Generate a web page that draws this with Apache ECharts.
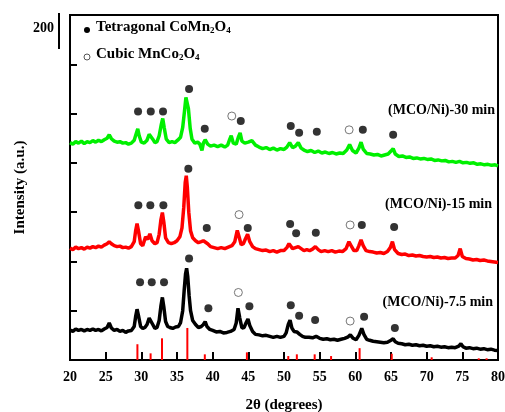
<!DOCTYPE html>
<html>
<head>
<meta charset="utf-8">
<script src="https://cdn.jsdelivr.net/npm/echarts@6/dist/echarts.min.js"></script>
<style>html,body{margin:0;padding:0;background:#fff;}#c{width:505px;height:412px;}</style>
</head>
<body>
<div id="c"></div>
<script>
// 2θ ticks
var xTicks = [20, 25, 30, 35, 40, 45, 50, 55, 60, 65, 70, 75, 80];

// (MCO/Ni)-7.5 min  [2θ, intensity]
var black75 = [[20.0,61],[20.4,58],[20.8,63],[21.2,60],[21.6,62],[22.0,59],[22.4,62],[22.8,60],[23.2,63],[23.6,60],[24.0,62],[24.4,59],[24.8,63],[25.2,66],[25.5,75],[25.8,65],[26.2,60],[26.6,62],[27.0,58],[27.4,60],[27.8,56],[28.2,59],[28.6,60],[29.0,68],[29.2,88],[29.4,103],[29.6,90],[29.9,68],[30.2,64],[30.5,66],[30.8,72],[31.1,85],[31.3,87],[31.6,72],[31.9,64],[32.2,66],[32.5,80],[32.75,110],[32.95,127],[33.15,108],[33.4,78],[33.7,68],[34.0,66],[34.4,64],[34.8,67],[35.2,68],[35.5,76],[35.8,100],[36.0,140],[36.2,175],[36.35,186],[36.5,170],[36.7,130],[36.9,100],[37.2,80],[37.6,72],[38.0,66],[38.4,68],[38.7,72],[38.95,78],[39.2,68],[39.6,62],[40.0,60],[40.5,57],[41.0,58],[41.5,55],[42.0,56],[42.5,58],[43.0,62],[43.3,75],[43.55,105],[43.8,85],[44.1,65],[44.4,66],[44.7,76],[44.95,83],[45.2,70],[45.6,58],[46.0,52],[46.5,51],[47.0,49],[47.5,50],[48.0,48],[48.5,46],[49.0,48],[49.5,46],[50.0,48],[50.3,55],[50.6,72],[50.85,81],[51.1,65],[51.4,58],[51.8,57],[52.2,52],[52.6,48],[53.0,46],[53.5,46],[54.0,45],[54.5,48],[55.0,44],[55.5,42],[56.0,43],[56.5,41],[57.0,42],[57.5,40],[58.0,42],[58.5,44],[59.0,47],[59.3,51],[59.7,44],[60.1,41],[60.5,50],[60.9,64],[61.2,52],[61.6,42],[62.0,40],[62.5,38],[63.0,37],[63.5,36],[64.0,35],[64.5,36],[65.0,40],[65.3,43],[65.6,37],[66.0,34],[66.5,33],[67.0,31],[67.5,32],[68.0,30],[68.5,31],[69.0,29],[69.5,30],[70.0,28],[70.5,29],[71.0,27],[71.5,28],[72.0,26],[72.5,27],[73.0,25],[73.5,26],[74.0,25],[74.5,28],[74.8,33],[75.1,27],[75.5,24],[76.0,25],[76.5,23],[77.0,24],[77.5,22],[78.0,23],[78.5,21],[79.0,22],[79.5,20],[80.0,19]];

// (MCO/Ni)-15 min
var red15 = [[20.0,227],[20.4,224],[20.8,229],[21.2,226],[21.6,228],[22.0,225],[22.4,229],[22.8,227],[23.2,230],[23.6,228],[24.0,231],[24.4,229],[24.8,233],[25.2,236],[25.5,240],[25.8,236],[26.2,232],[26.6,230],[27.0,231],[27.4,228],[27.8,229],[28.2,227],[28.6,230],[29.0,240],[29.2,262],[29.4,277],[29.6,262],[29.9,236],[30.2,232],[30.6,250],[30.9,245],[31.2,256],[31.5,242],[31.9,236],[32.2,238],[32.5,255],[32.75,285],[32.95,299],[33.15,280],[33.4,248],[33.8,238],[34.2,236],[34.6,238],[35.0,242],[35.4,250],[35.7,268],[35.95,310],[36.15,360],[36.3,374],[36.45,350],[36.65,300],[36.9,262],[37.2,248],[37.6,242],[38.0,238],[38.4,240],[38.7,242],[38.95,246],[39.3,236],[39.7,230],[40.2,228],[40.7,226],[41.2,228],[41.7,226],[42.2,229],[42.7,232],[43.1,240],[43.45,263],[43.7,250],[44.0,234],[44.3,236],[44.6,246],[44.9,255],[45.2,240],[45.6,230],[46.0,226],[46.5,224],[47.0,222],[47.5,223],[48.0,220],[48.5,222],[49.0,219],[49.5,222],[50.0,222],[50.4,228],[50.7,236],[50.9,232],[51.2,226],[51.6,228],[52.0,230],[52.4,226],[52.8,222],[53.2,224],[53.6,222],[54.0,225],[54.4,230],[54.8,224],[55.2,220],[55.7,222],[56.2,220],[56.7,222],[57.2,219],[57.7,221],[58.2,220],[58.7,226],[59.1,240],[59.4,232],[59.8,222],[60.2,222],[60.5,232],[60.8,244],[61.1,232],[61.5,222],[62.0,220],[62.5,219],[63.0,217],[63.5,218],[64.0,216],[64.5,220],[64.9,228],[65.2,240],[65.5,224],[66.0,216],[66.5,214],[67.0,215],[67.5,212],[68.0,213],[68.5,211],[69.0,212],[69.5,210],[70.0,209],[70.5,210],[71.0,208],[71.5,209],[72.0,207],[72.5,208],[73.0,206],[73.5,207],[74.0,207],[74.4,212],[74.7,226],[75.0,210],[75.5,206],[76.0,205],[76.5,203],[77.0,204],[77.5,202],[78.0,203],[78.5,201],[79.0,200],[79.5,199],[80.0,198]];

// (MCO/Ni)-30 min
var green30 = [[20.0,441],[20.4,438],[20.8,443],[21.2,440],[21.6,444],[22.0,439],[22.4,443],[22.8,441],[23.2,445],[23.6,442],[24.0,446],[24.4,443],[24.8,447],[25.2,450],[25.5,457],[25.8,449],[26.2,444],[26.6,442],[27.0,443],[27.4,440],[27.8,441],[28.2,438],[28.6,440],[29.0,446],[29.3,460],[29.5,469],[29.7,455],[30.0,442],[30.4,440],[30.8,446],[31.1,458],[31.3,461],[31.6,448],[31.9,441],[32.2,443],[32.5,455],[32.8,478],[33.0,490],[33.2,472],[33.5,448],[33.9,441],[34.3,443],[34.7,441],[35.1,446],[35.5,452],[35.8,472],[36.05,505],[36.25,533],[36.4,536],[36.6,510],[36.85,470],[37.1,448],[37.5,440],[37.9,442],[38.2,438],[38.5,425],[38.7,440],[38.95,447],[39.3,438],[39.7,434],[40.2,436],[40.7,433],[41.2,436],[41.7,432],[42.1,436],[42.4,448],[42.6,455],[42.9,440],[43.3,438],[43.6,452],[43.85,461],[44.1,444],[44.5,440],[45.0,442],[45.5,445],[46.0,436],[46.5,432],[47.0,429],[47.5,431],[48.0,427],[48.5,430],[49.0,426],[49.5,429],[50.0,427],[50.4,432],[50.8,441],[51.2,431],[51.6,434],[52.0,441],[52.4,430],[52.8,426],[53.3,423],[53.8,425],[54.3,421],[54.8,424],[55.3,420],[55.8,422],[56.3,419],[56.8,421],[57.3,418],[57.8,420],[58.3,419],[58.8,426],[59.2,437],[59.6,425],[60.1,420],[60.5,430],[60.8,442],[61.1,428],[61.6,419],[62.1,418],[62.6,416],[63.1,417],[63.6,414],[64.1,416],[64.6,418],[65.0,424],[65.3,429],[65.6,418],[66.1,413],[66.6,414],[67.1,411],[67.6,412],[68.1,409],[68.6,410],[69.1,408],[69.6,409],[70.1,407],[70.6,408],[71.1,405],[71.6,406],[72.1,404],[72.6,405],[73.1,402],[73.6,403],[74.1,401],[74.6,403],[75.1,400],[75.6,401],[76.1,399],[76.6,400],[77.1,397],[77.6,398],[78.1,396],[78.6,397],[79.1,395],[79.6,396],[80.0,394]];

// reference pattern lines (red sticks)
var refSticks = [[29.45,32],[31.3,13.5],[32.9,44],[36.45,65],[38.9,11.5],[44.8,15.5],[50.6,8],[51.8,11.5],[54.3,11.5],[56.6,8],[60.6,24],[65.1,12.7],[70.7,5.5],[77.3,3.4],[78.4,3.4]];

// peak markers: tetragonal CoMn2O4 (filled) and cubic MnCo2O4 (open)
var tetraMarks = [
  [29.82,158],[31.46,158],[33.18,158],[36.69,206],[39.40,105],[45.15,109],[50.95,111],[52.12,90],[54.36,81],[61.23,88],[65.54,65],
  [29.58,314],[31.26,314],[33.09,314],[36.59,388],[39.17,268],[44.92,268],[50.86,276],[51.70,257],[54.46,258],[60.91,274],[65.44,270],
  [29.54,504],[31.32,504],[33.04,504],[36.69,550],[38.89,469],[43.94,485],[50.95,475],[52.12,461],[54.60,463],[61.05,467],[65.30,457]
];
var cubicMarks = [[43.60,137],[59.27,79],[43.70,295],[59.27,274],[42.68,495],[59.13,467]];

var sampleNames = ['(MCO/Ni)-30 min', '(MCO/Ni)-15 min', '(MCO/Ni)-7.5 min'];

var serif = '"Liberation Serif", "DejaVu Serif", serif';
var richStyle = {
  m: {fontFamily: serif, fontWeight: 'bold', fontSize: 15, fill: '#000', verticalAlign: 'bottom', lineHeight: 18},
  s: {fontFamily: serif, fontWeight: 'bold', fontSize: 9, fill: '#000', verticalAlign: 'bottom', lineHeight: 6}
};
var chart = echarts.init(document.getElementById('c'));
chart.setOption({
  animation: false,
  backgroundColor: '#fff',
  grid: {left: 70, right: 7, top: 15, bottom: 52, outerBoundsMode: 'none', containLabel: false, show: true, borderColor: '#000', borderWidth: 2, backgroundColor: 'transparent'},
  xAxis: {
    type: 'value', min: 20, max: 80, interval: 5,
    name: '2θ (degrees)', nameLocation: 'middle', nameGap: 38,
    nameTextStyle: {fontFamily: serif, fontWeight: 'bold', fontSize: 15, color: '#000'},
    axisLine: {show: true, lineStyle: {color: '#000', width: 2}},
    axisTick: {show: true, inside: true, length: 8, lineStyle: {color: '#000', width: 2}},
    axisLabel: {fontFamily: serif, fontWeight: 'bold', fontSize: 14, color: '#000', margin: 10},
    splitLine: {show: false}
  },
  yAxis: {
    type: 'value', min: 0, max: 700, interval: 100,
    name: 'Intensity (a.u.)', nameLocation: 'middle', nameGap: 42, nameRotate: 90,
    nameTextStyle: {fontFamily: serif, fontWeight: 'bold', fontSize: 15, color: '#000'},
    axisLine: {show: true, lineStyle: {color: '#000', width: 2}},
    axisTick: {show: true, inside: true, length: 7, lineStyle: {color: '#000', width: 2}},
    axisLabel: {show: false},
    splitLine: {show: false}
  },
  series: [
    {type: 'bar', data: refSticks, barWidth: 2, itemStyle: {color: '#ff0000'}, z: 1},
    {type: 'line', data: black75, showSymbol: false, lineStyle: {color: '#000', width: 3.5}, z: 3},
    {type: 'line', data: red15, showSymbol: false, lineStyle: {color: '#ff0000', width: 3.5}, z: 3},
    {type: 'line', data: green30, showSymbol: false, lineStyle: {color: '#00f000', width: 3.5}, z: 3},
    {type: 'scatter', data: tetraMarks, symbol: 'circle', symbolSize: 8, itemStyle: {color: '#000'}, z: 4},
    {type: 'scatter', data: cubicMarks, symbol: 'circle', symbolSize: 8, itemStyle: {color: '#fff', borderColor: '#555', borderWidth: 1}, z: 4}
  ],
  graphic: [
    {type: 'text', left: 33, top: 21, style: {text: '200', fontFamily: serif, fontWeight: 'bold', fontSize: 14, fill: '#000'}},
    {type: 'line', shape: {x1: 59, y1: 13, x2: 59, y2: 49}, style: {stroke: '#000', lineWidth: 2}},
    {type: 'circle', shape: {cx: 87, cy: 30, r: 3}, style: {fill: '#000'}},
    {type: 'text', left: 96, top: 20, style: {rich: richStyle, text: '{m|Tetragonal CoMn}{s|2}{m|O}{s|4}'}},
    {type: 'circle', shape: {cx: 87, cy: 57, r: 3}, style: {fill: '#fff', stroke: '#555', lineWidth: 1}},
    {type: 'text', left: 96, top: 47, style: {rich: richStyle, text: '{m|Cubic MnCo}{s|2}{m|O}{s|4}'}},
    {type: 'text', right: 10, top: 103, style: {text: sampleNames[0], fontFamily: serif, fontWeight: 'bold', fontSize: 14, fill: '#000'}},
    {type: 'text', right: 13, top: 197, style: {text: sampleNames[1], fontFamily: serif, fontWeight: 'bold', fontSize: 14, fill: '#000'}},
    {type: 'text', right: 12, top: 295, style: {text: sampleNames[2], fontFamily: serif, fontWeight: 'bold', fontSize: 14, fill: '#000'}}
  ]
});
</script>
</body>
</html>
